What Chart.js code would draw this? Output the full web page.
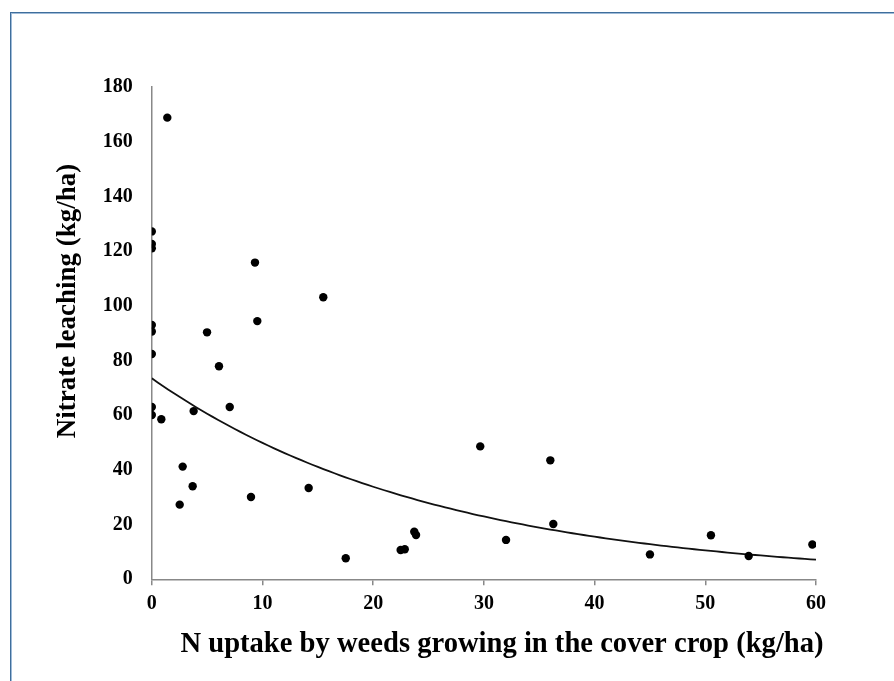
<!DOCTYPE html>
<html><head><meta charset="utf-8">
<script src="https://cdn.jsdelivr.net/npm/chart.js@4.4.1/dist/chart.umd.min.js"></script>
<style>
html,body{margin:0;padding:0;background:#fff;overflow:hidden;}
#wrap{position:relative;width:894px;height:681px;}
#frame{position:absolute;left:10px;top:12px;width:2000px;height:2000px;border-left:1px solid #3f6e9c;border-top:1px solid #3f6e9c;box-shadow:inset 1px 1px 0 #9fbbd8;}
canvas{position:absolute;left:0;top:0;}
</style></head><body>
<div id="wrap"><div id="frame"></div><canvas id="c" width="894" height="681"></canvas></div>
<script>
// N uptake by weeds (kg/ha) and nitrate leaching (kg/ha)
const weedNUptake = [0, 0, 0, 0, 0, 0, 0, 0,
  1.4, 0.86, 3.78, 4.99, 6.07, 7.04, 2.79, 3.69, 2.52, 8.96, 9.32, 9.53,
  15.49, 14.17, 17.52, 22.48, 22.85, 23.71, 23.87, 29.67, 32.0, 36.0, 36.27,
  45.0, 50.51, 53.92, 59.67];
const nitrateLeaching = [127.2, 122.6, 121.0, 93.0, 90.6, 82.4, 63.0, 60.1,
  168.8, 58.5, 61.5, 90.3, 77.9, 63.0, 41.2, 34.0, 27.3, 30.1, 115.8, 94.4,
  103.1, 33.4, 7.7, 10.7, 11.0, 17.4, 16.2, 48.6, 14.4, 43.5, 20.2,
  9.1, 16.1, 8.5, 12.7];
const xTickValues = [0, 10, 20, 30, 40, 50, 60];
const yTickValues = [0, 20, 40, 60, 80, 100, 120, 140, 160, 180];
const xAxisTitle = "N uptake by weeds growing in the cover crop (kg/ha)";
const yAxisTitle = "Nitrate leaching (kg/ha)";

// Exponential least-squares trendline (fit of ln y on x), as in the original figure
function expFit(xs, ys) {
  const n = xs.length;
  let sx = 0, sy = 0, sxx = 0, sxy = 0;
  for (let i = 0; i < n; i++) {
    const ly = Math.log(ys[i]);
    sx += xs[i]; sy += ly; sxx += xs[i] * xs[i]; sxy += xs[i] * ly;
  }
  const b = (n * sxy - sx * sy) / (n * sxx - sx * sx);
  const a = Math.exp((sy - b * sx) / n);
  return {a, b};
}
const fit = expFit(weedNUptake, nitrateLeaching);
const xMin = xTickValues[0], xMax = xTickValues[xTickValues.length - 1];
const trendPoints = [];
for (let i = 0; i <= 120; i++) {
  const x = xMin + (xMax - xMin) * i / 120;
  trendPoints.push({x, y: fit.a * Math.exp(fit.b * x)});
}

const scatterPoints = weedNUptake.map((x, i) => ({x, y: nitrateLeaching[i]}));

const FONT = '"Liberation Serif", "Times New Roman", serif';

const axisTitles = {
  id: 'axisTitles',
  afterDraw(chart) {
    const ctx = chart.ctx;
    ctx.save();
    ctx.fillStyle = '#000';
    ctx.textAlign = 'center';
    ctx.textBaseline = 'middle';
    ctx.font = 'bold 28.6px ' + FONT;
    ctx.fillText(xAxisTitle, 502, 645);
    ctx.translate(68, 301);
    ctx.rotate(-Math.PI / 2);
    ctx.font = 'bold 27px ' + FONT;
    ctx.fillText(yAxisTitle, 0, 0);
    ctx.restore();
  }
};

new Chart(document.getElementById('c'), {
  type: 'scatter',
  data: {
    datasets: [
      {
        label: 'Observations',
        data: scatterPoints,
        backgroundColor: '#000',
        borderColor: '#000',
        pointRadius: 4.2,
        pointHoverRadius: 4.2,
        borderWidth: 0
      },
      {
        label: 'Trend',
        type: 'line',
        data: trendPoints,
        borderColor: '#111',
        borderWidth: 1.8,
        pointRadius: 0,
        fill: false,
        tension: 0
      }
    ]
  },
  options: {
    responsive: false,
    animation: false,
    events: [],
    layout: {padding: {left: 0, top: 87, right: 78, bottom: 0}},
    plugins: {legend: {display: false}, tooltip: {enabled: false}, title: {display: false}},
    scales: {
      x: {
        type: 'linear',
        min: xMin, max: xMax,
        afterBuildTicks: s => { s.ticks = xTickValues.map(v => ({value: v})); },
        afterFit: s => { s.height = 101.7; },
        grid: {display: true, drawOnChartArea: false, drawTicks: true, tickLength: 6, color: '#888', lineWidth: 1.5},
        border: {display: true, color: '#888', width: 1.5},
        ticks: {color: '#000', padding: 7, font: {family: FONT, size: 20, weight: 'bold'}, maxRotation: 0}
      },
      y: {
        type: 'linear',
        min: yTickValues[0], max: yTickValues[yTickValues.length - 1],
        afterBuildTicks: s => { s.ticks = yTickValues.map(v => ({value: v})); },
        afterFit: s => { s.width = 151.8; },
        grid: {display: false, drawTicks: false},
        border: {display: true, color: '#888', width: 1.5},
        ticks: {color: '#000', padding: 19, font: {family: FONT, size: 20, weight: 'bold'}}
      }
    }
  },
  plugins: [axisTitles]
});
</script>
</body></html>
